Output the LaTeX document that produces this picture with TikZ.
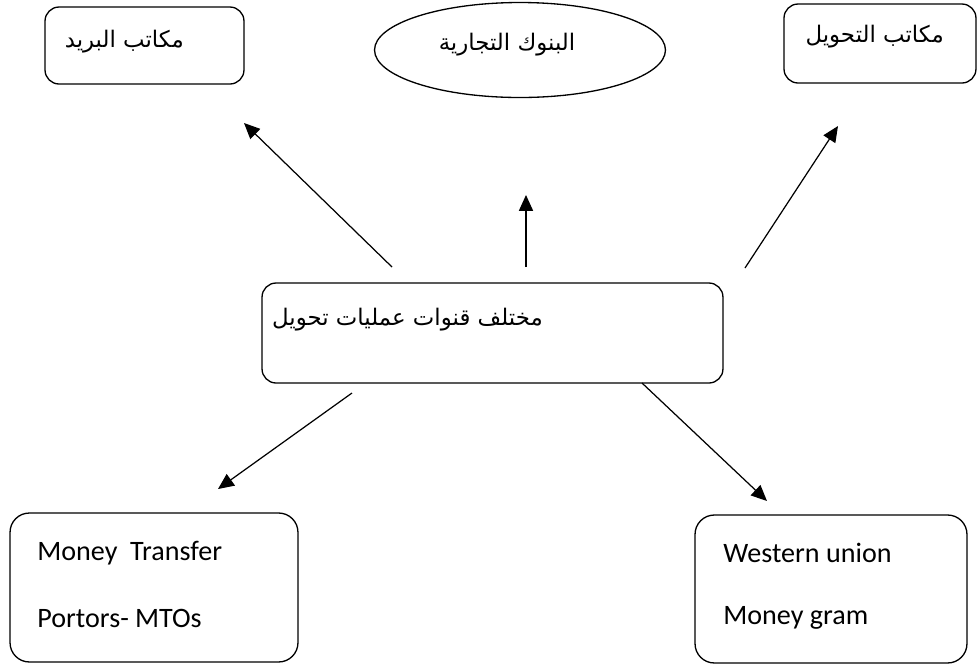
\documentclass[tikz,border=0pt]{standalone}
\usepackage{fontspec}
\setmainfont{Carlito}
\newfontfamily\arabicfont[Script=Arabic]{DejaVu Sans}
\TeXXeTstate=1
\usetikzlibrary{arrows.meta}
\usetikzlibrary{shapes.geometric}

\tikzset{
  box/.style={draw, rounded corners=8pt, line width=0.75pt},
  arabtext/.style={font=\arabicfont\fontsize{13}{15}\selectfont},
  latntext/.style={font=\fontsize{16}{19}\selectfont},
  arrowline/.style={line width=0.7pt, -{Triangle[length=9pt,width=8pt]}}
}

\begin{document}
\begin{tikzpicture}[x=0.02cm, y=-0.02cm]
            \useasboundingbox (0,0) rectangle (978,664);

            % boxes
            \node[box, minimum width=3.98cm, minimum height=1.54cm] (post) at (144.5,45.5) {};
            \node[draw, ellipse, line width=0.75pt, minimum width=5.82cm, minimum height=1.9cm] (banks) at (520,50) {};
            \node[box, minimum width=3.84cm, minimum height=1.58cm] (offices) at (880,43.5) {};
            \node[box, minimum width=9.22cm, minimum height=2.0cm] (channels) at (492.5,333) {};
            \node[box, rounded corners=11pt, minimum width=5.76cm, minimum height=2.98cm] (mto) at (154,587.5) {};
            \node[box, rounded corners=11pt, minimum width=5.44cm, minimum height=2.96cm] (wu) at (831,589) {};

            % texts
            \node[arabtext, anchor=east] (posttxt) at (190,42) {\beginR مكاتب البريد\endR};
            \node[arabtext] (bankstxt) at (507,45) {\beginR البنوك التجارية\endR};
            \node[arabtext, anchor=east] (officestxt) at (950,37) {\beginR مكاتب التحويل\endR};
            \node[arabtext, anchor=east] (channelstxt) at (549,320) {\beginR مختلف قنوات عمليات تحويل\endR};
            \node[latntext, anchor=base west, inner sep=0pt] (mtoa) at (37,560) {Money\ \ Transfer};
            \node[latntext, anchor=base west, inner sep=0pt] (mtob) at (37,627) {Portors- MTOs};
            \node[latntext, anchor=base west, inner sep=0pt] (wua) at (723,562) {Western union};
            \node[latntext, anchor=base west, inner sep=0pt] (wub) at (723,624) {Money gram};

            % arrow ends
            \coordinate (t1) at (392,267);
            \coordinate (h1) at (244,123);
            \coordinate (t2) at (526,267);
            \coordinate (h2) at (526,195);
            \coordinate (t3) at (745,268);
            \coordinate (h3) at (838,126);
            \coordinate (t4) at (352,393);
            \coordinate (h4) at (218,489);
            \coordinate (t5) at (642,383);
            \coordinate (h5) at (767,501);

            \draw[arrowline] (t1) -- (h1);
            \draw[arrowline] (t2) -- (h2);
            \draw[arrowline] (t3) -- (h3);
            \draw[arrowline] (t4) -- (h4);
            \draw[arrowline] (t5) -- (h5);
        \end{tikzpicture}
\end{document}
